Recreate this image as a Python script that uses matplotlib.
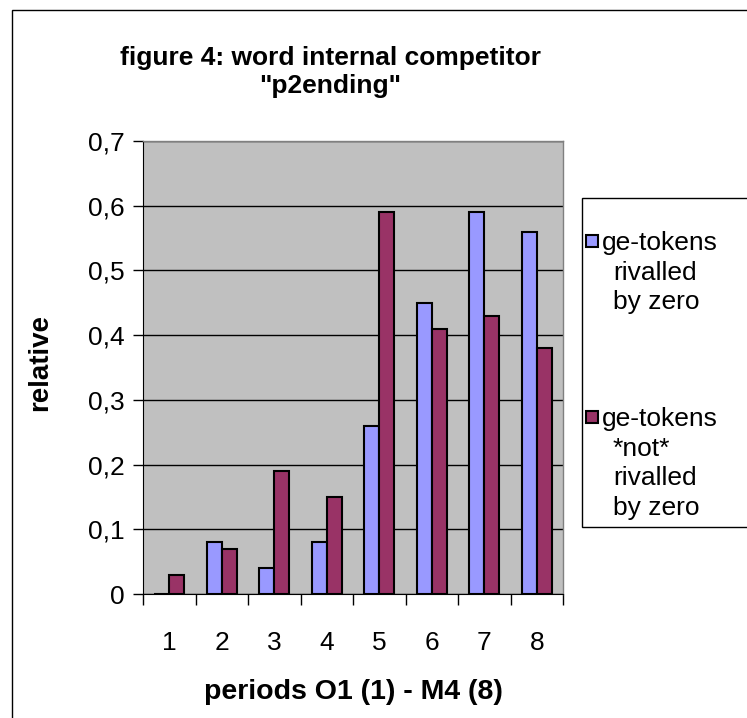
import numpy as np
import matplotlib
matplotlib.use("Agg")
import matplotlib.pyplot as plt
from matplotlib.patches import Rectangle

plt.rcParams['font.family'] = ['Liberation Sans', 'DejaVu Sans']

# data
periods = ['1', '2', '3', '4', '5', '6', '7', '8']
rivalled = [0.0, 0.08, 0.04, 0.08, 0.26, 0.45, 0.59, 0.56]
not_rivalled = [0.03, 0.07, 0.19, 0.15, 0.59, 0.41, 0.43, 0.38]
y_ticks = [0, 0.1, 0.2, 0.3, 0.4, 0.5, 0.6, 0.7]
y_labels = ['0', '0,1', '0,2', '0,3', '0,4', '0,5', '0,6', '0,7']
series_names = [['ge-tokens', 'rivalled', 'by zero'],
                ['ge-tokens', '*not*', 'rivalled', 'by zero']]

W, H = 747, 718
fig = plt.figure(figsize=(W / 100, H / 100), dpi=100)

# plot area in pixel coords of the reference
left, right, top, bottom = 143, 563, 141, 594
ax = fig.add_axes([left / W, 1 - bottom / H, (right - left) / W, (bottom - top) / H])
ax.set_facecolor('#C0C0C0')

x = np.arange(len(periods))
bw = 0.29
ax.bar(x - bw / 2, rivalled, bw, color='#9999FF', edgecolor='black', linewidth=1.5, zorder=3)
ax.bar(x + bw / 2, not_rivalled, bw, color='#993366', edgecolor='black', linewidth=1.5, zorder=3)

ax.set_xlim(-0.5, len(periods) - 0.5)
ax.set_ylim(0, 0.7)
ax.set_yticks(y_ticks)
ax.set_yticklabels(y_labels)
ax.set_xticks(x)
ax.set_xticklabels(periods)
ax.set_xticks(np.arange(len(periods) + 1) - 0.5, minor=True)
ax.tick_params(axis='x', which='major', length=0, pad=27, labelsize=19)
ax.tick_params(axis='x', which='minor', length=8, width=1, direction='out')
ax.tick_params(axis='y', length=7, width=1, direction='out', pad=6, labelsize=19)

ax.grid(axis='y', color='black', linewidth=1, zorder=1)
ax.set_axisbelow(True)
for s in ['top', 'right']:
    ax.spines[s].set_color('#808080')
    ax.spines[s].set_linewidth(1)
ax.spines['left'].set_color('black')
ax.spines['bottom'].set_color('black')

ax.set_ylabel('relative', fontsize=20, fontweight='bold', va='center')
ax.yaxis.set_label_coords(-0.245, 0.51)
ax.set_xlabel('periods O1 (1) - M4 (8)', fontsize=20.5, fontweight='bold', va='center')
ax.xaxis.set_label_coords(0.5, -(692 - bottom) / (bottom - top))
fig.text(0.442, 1 - 72 / H, 'figure 4: word internal competitor\n"p2ending"',
         ha='center', va='center', fontsize=19, fontweight='bold', linespacing=1.2)

# legend box drawn by hand, Excel style
fig.add_artist(Rectangle((582 / W, 1 - 527 / H), 200 / W, 329 / H, transform=fig.transFigure,
                         facecolor='white', edgecolor='black', linewidth=1))
colors = ['#9999FF', '#993366']
first_baselines = [250, 426]
pitch = 29.5
for lines, c, base in zip(series_names, colors, first_baselines):
    fig.add_artist(Rectangle((586 / W, 1 - (base - 3) / H), 12 / W, 12 / H, transform=fig.transFigure,
                             facecolor=c, edgecolor='black', linewidth=1.5))
    for i, line in enumerate(lines):
        tx = 602 if i == 0 else 613
        fig.text(tx / W, 1 - (base + i * pitch) / H, line, ha='left', va='baseline', fontsize=19)

# outer chart border
fig.add_artist(Rectangle((12 / W, -0.1), 1.0, 1.1 - 10 / H, transform=fig.transFigure,
                         fill=False, edgecolor='black', linewidth=1))

fig.savefig('out.png', dpi=100)
